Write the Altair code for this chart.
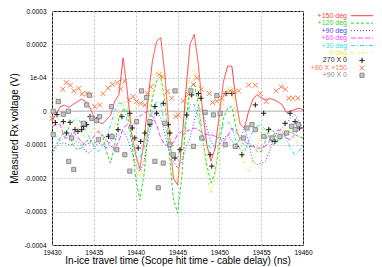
import altair as alt
import pandas as pd

FONT = "Liberation Sans"
T0, T1 = 19430, 19460
# waveform sampling used for the traces (0.5 ns steps)
time_grid = [T0 + 0.5 * i for i in range(61)]

series_names = ["+150 deg", "+120 deg", "+90 deg", "+60 deg", "+30 deg", "0 deg"]
series_colors = ["#ff3c3c", "#2ed82e", "#4646ff", "#ff46ff", "#2ee0e0", "#ecec30"]
series_dash = [[1, 0], [3, 2], [1, 2], [5, 2], [4, 2, 1, 2], [3, 2, 1, 2, 1, 2]]

# values in units of 1e-4 V
red = [-0.28, -0.08, 0.14, 0.18, 0.12, 0.20, 0.28, 0.36, 0.30, 0.12,
       -0.15, -0.30, -0.38, -0.25, -0.12, 0.30, 0.50, 1.60, 0.60, -0.60,
       -1.30, -1.72, -0.90, 0.40, 1.50, 2.10, 2.20, 1.10, -0.60, -2.00,
       -2.20, -1.00, 0.60, 2.00, 2.30, 1.40, 0.00, -1.00, -1.50, -1.10,
       -0.10, 0.90, 1.35, 1.35, 0.30, -0.40, -0.50, 0.00, 0.35, 0.50,
       0.40, 0.35, 0.38, 0.35, 0.28, 0.20, -0.03, 0.00, 0.05, 0.09,
       0.05]
green = [-1.25, -1.0, -0.8, -0.6, -0.7, -1.0, -1.15, -1.1, -0.9, -0.85,
         -0.95, -0.9, -0.7, -1.2, -1.55, -1.0, -0.2, 0.05, 0.0, -0.8,
         -2.0, -2.65, -1.9, -0.5, 0.4, 0.9, 1.05, 0.3, -1.2, -2.6,
         -3.05, -2.0, -0.3, 0.7, 0.85, 0.2, -0.8, -1.6, -2.15, -1.8,
         -1.0, -0.2, 0.1, 0.14, -0.5, -0.9, -1.0, -1.1, -1.0, -1.2,
         -1.2, -0.9, -0.5, -0.6, -0.9, -0.8, -0.7, -0.6, -0.7, -0.75,
         -0.8]
blue = [-1.25, -1.1, -0.95, -0.95, -1.0, -1.0, -0.9, -1.0, -1.2, -1.25,
        -1.1, -0.95, -1.0, -1.1, -0.9, -0.8, -0.7, -0.6, -0.8, -1.2,
        -1.6, -1.8, -1.5, -0.8, -0.3, 0.0, -0.2, -0.7, -1.2, -1.5,
        -1.7, -1.5, -1.1, -0.8, -0.3, 0.15, 0.0, -0.5, -0.9, -1.1,
        -1.0, -0.8, -0.7, -0.9, -1.0, -0.8, -0.5, -0.9, -1.5, -1.6,
        -1.55, -1.5, -1.2, -0.8, -0.6, -0.5, -0.4, -0.2, -0.1, -0.3,
        -0.5]
magenta = [-0.45, -0.4, -0.4, -0.8, -0.8, -0.6, -0.75, -0.9, -1.0, -0.95,
           -0.75, -0.6, -0.7, -0.85, -1.05, -1.1, -0.9, -0.5, -0.4, -0.45,
           -0.3, -0.15, -0.05, 0.0, -0.15, -0.4, -0.8, -1.0, -1.05, -0.95,
           -0.7, -0.6, -0.6, -0.55, -0.5, -0.55, -0.65, -0.7, -0.7, -0.75,
           -0.8, -0.9, -0.75, -0.5, -0.6, -0.8, -0.9, -1.0, -1.05, -1.1,
           -1.1, -1.05, -0.9, -0.7, -0.55, -0.6, -0.8, -0.85, -0.7, -0.55,
           -0.5]
cyan = [-0.6, -0.75, -0.9, -0.8, -0.5, -0.3, -0.2, -0.35, -0.55, -0.8,
        -1.05, -1.2, -1.1, -0.8, -0.4, 0.0, 0.25, 0.2, -0.3, -0.9,
        -1.3, -1.4, -1.1, -0.5, 0.0, 0.3, 0.2, -0.4, -1.0, -1.35,
        -1.4, -1.0, -0.3, 0.2, 0.2, -0.2, -0.7, -1.0, -1.1, -1.0,
        -0.7, -0.4, -0.3, -0.5, -0.9, -1.15, -1.2, -0.9, -0.6, -0.45,
        -0.4, -0.55, -0.8, -1.0, -0.9, -0.7, -0.8, -1.1, -1.3, -1.2,
        -1.0]
yellow = [-0.4, -0.5, -0.6, -0.5, -0.35, -0.3, -0.45, -0.6, -0.8, -0.7,
          -0.5, -0.55, -0.7, -0.9, -0.8, -0.4, 0.0, 0.3, 0.1, -0.6,
          -1.5, -2.0, -1.5, -0.3, 0.6, 1.2, 1.2, 0.3, -0.9, -1.9,
          -2.1, -1.3, 0.0, 1.1, 1.3, 0.5, -0.8, -1.9, -2.45, -2.0,
          -0.8, 0.3, 0.75, 0.7, -0.2, -1.1, -1.6, -1.8, -1.6, -1.1,
          -0.6, -0.5, -0.7, -0.9, -0.8, -0.6, -0.5, -0.6, -0.8, -1.0,
          -1.1]
series_values = [red, green, blue, magenta, cyan, yellow]

# scatter sets
black_t = [19430.4, 19430.6, 19431.35, 19431.75, 19432.15, 19432.75, 19433.1, 19433.55, 19433.75, 19434.15,
           19434.55, 19435.35, 19436.75, 19437.15, 19437.9, 19438.35, 19439.3, 19439.6, 19439.9, 19440.3,
           19440.6, 19441.1, 19441.7, 19442.3, 19442.5, 19443.3, 19443.9, 19444.1, 19444.7, 19445.3,
           19446.1, 19446.7, 19447.5, 19447.8, 19448.9, 19449.1, 19450.8, 19451.5, 19452.05, 19452.7,
           19454.3, 19455.3, 19455.9, 19456.3, 19456.65, 19457.85, 19458.45, 19459.05, 19459.6]
black_v = [-0.34, -0.1, -0.31, -0.65, -0.33, -0.55, -0.6, -0.55, -0.45, -0.4,
           -0.16, -0.25, -0.75, -0.75, -0.55, -0.16, -0.06, -0.5, -0.8, -1.1,
           -0.9, -0.65, -0.4, 0.14, -0.06, 0.24, -0.4, -0.65, -1.4, -1.15,
           -0.11, 0.49, 0.53, 0.39, -1.3, -1.64, 0.53, 0.53, -1.05, -1.3,
           0.19, -0.06, -0.55, -0.85, -0.9, -0.36, -0.06, -0.31, -0.5]
orange_t = [19430.0, 19430.75, 19431.3, 19431.7, 19432.2, 19432.6, 19433.2, 19433.6, 19434.2, 19434.6,
            19435.1, 19435.7, 19436.1, 19436.7, 19437.25, 19437.8, 19438.2, 19438.7, 19439.2, 19439.7,
            19440.1, 19440.6, 19441.1, 19441.4, 19441.8, 19442.8, 19443.2, 19443.8, 19444.3, 19444.8,
            19445.1, 19445.7, 19446.3, 19446.9, 19447.3, 19447.85, 19448.8, 19449.2, 19449.7, 19450.3,
            19450.7, 19451.3, 19451.8, 19452.3, 19453.5, 19454.3, 19454.9, 19455.6, 19456.8, 19457.4,
            19457.9, 19458.3, 19458.8, 19459.4]
orange_v = [-0.21, 0.31, 0.66, 0.86, 0.78, 0.61, 0.68, 0.52, 0.53, 0.49,
            0.14, 0.19, 0.53, 0.70, 0.80, 0.86, 0.66, 0.90, 0.34, 0.44,
            0.29, 0.24, 0.19, 0.53, 0.73, 1.10, 1.03, 0.59, 0.39, -0.16,
            -0.11, 0.31, 0.50, 0.80, 1.0, 0.66, 0.53, 0.26, 0.31, 0.39,
            0.53, 0.61, 0.58, 0.61, 0.78, 0.78, 0.53, 0.29, 0.61, 0.73,
            0.66, 0.39, 0.39, 0.39]
gray_t = [19430.15, 19430.15, 19430.75, 19431.35, 19431.95, 19432.0, 19432.35, 19432.6, 19433.75, 19434.15,
          19434.45, 19434.75, 19435.3, 19435.55, 19435.7, 19437.1, 19437.15, 19437.75, 19438.7, 19439.3,
          19440.1, 19440.7, 19441.3, 19441.7, 19442.3, 19442.7, 19443.3, 19443.5, 19444.1, 19444.5,
          19444.7, 19446.6, 19446.9, 19447.9, 19448.3, 19449.3, 19449.7, 19450.1, 19450.7, 19451.9,
          19452.9, 19453.3, 19453.9, 19454.3, 19455.3, 19456.3, 19457.25, 19458.05, 19458.65, 19459.05,
          19459.45]
gray_v = [0.0, -0.7, 0.29, -0.09, 0.0, -1.5, -0.8, -1.74, -0.36, 0.19,
          0.48, -0.21, -0.28, -0.85, -0.16, 0.14, -0.75, -1.15, -1.3, -1.79,
          -0.31, 0.61, 0.41, -0.31, -1.5, -2.29, -1.55, -0.36, -1.0, -1.3,
          0.61, 0.61, -1.05, -0.8, -0.03, -0.11, 0.47, -0.06, -1.0, -1.05,
          -0.8, -0.5, -0.4, -0.55, -0.75, -0.8, -0.75, -0.65, -0.45, -0.55,
          -0.4]

point_names = ["270 X 0", "+60 X +150", "+90 X 0"]
point_colors = ["#1a1a1a", "#ff7a45", "#8c8c8c"]
point_sets = [(black_t, black_v), (orange_t, orange_v), (gray_t, gray_v)]


def point_mark(j):
    if j == 0:
        return dict(shape="M-1,0H1M0,-1V1", filled=False, size=28, strokeWidth=1,
                    color=point_colors[0], opacity=1)
    if j == 1:
        return dict(shape="M-1,-1L1,1M-1,1L1,-1", filled=False, size=24, strokeWidth=1,
                    color=point_colors[1], opacity=1)
    return dict(shape="square", filled=True, size=18, fill="#c4c4c4", stroke="#7c7c7c",
                strokeWidth=0.8, opacity=1, fillOpacity=1)


x_ticks = [19430, 19435, 19440, 19445, 19450, 19455, 19460]
y_ticks = [-0.0004, -0.0003, -0.0002, -0.0001, 0, 0.0001, 0.0002, 0.0003]

x_scale = alt.Scale(domain=[T0, T1], nice=False, zero=False)
y_scale = alt.Scale(domain=[-0.0004, 0.0003], nice=False, zero=False)

PLOT_H = 234

x_axis = alt.Axis(values=x_ticks, format="d", title="In-ice travel time (Scope hit time - cable delay) (ns)",
                  titleFont=FONT, titleFontSize=10, titleFontWeight="normal", titleColor="black",
                  titleY=10.5, titleBaseline="top",
                  labelFont=FONT, labelFontSize=6.5, labelColor="black", labelPadding=4,
                  labelFlush=False, labelOverlap=False, tickSize=0, domain=False,
                  grid=True, gridColor="#b0b0b0", gridDash=[2, 2], gridWidth=0.8)
y_axis = alt.Axis(values=y_ticks,
                  labelExpr="datum.value == 0 ? '0' : (abs(datum.value - 0.0001) < 1e-9 ? '1e-04' : (datum.value < 0 ? '-' : '') + format(abs(datum.value), '.4f'))",
                  title="Measured Rx voltage (V)", titleFont=FONT, titleFontSize=10,
                  titleFontWeight="normal", titleColor="black", titleX=-33, titleY=PLOT_H / 2,
                  labelFont=FONT, labelFontSize=6.5, labelColor="black", labelPadding=6,
                  labelFlush=False, labelOverlap=False, tickSize=0, domain=False,
                  grid=True, gridColor="#b0b0b0", gridDash=[2, 2], gridWidth=0.8)

layers = []
zero = pd.DataFrame({"v": [0.0]})
layers.append(alt.Chart(zero).mark_rule(color="#c8c8c8", strokeWidth=1.5).encode(
    y=alt.Y("v:Q", scale=y_scale, axis=y_axis)))

for name, color, dash, vals in zip(series_names, series_colors, series_dash, series_values):
    df = pd.DataFrame({"t": time_grid, "v": [v * 1e-4 for v in vals]})
    layers.append(alt.Chart(df).mark_line(color=color, strokeDash=dash, strokeWidth=1).encode(
        x=alt.X("t:Q", scale=x_scale, axis=x_axis),
        y=alt.Y("v:Q", scale=y_scale, axis=y_axis)))

for j, (ts, vs) in enumerate(point_sets):
    df = pd.DataFrame({"t": ts, "v": [v * 1e-4 for v in vs]})
    layers.append(alt.Chart(df).mark_point(**point_mark(j)).encode(
        x=alt.X("t:Q", scale=x_scale, axis=x_axis),
        y=alt.Y("v:Q", scale=y_scale, axis=y_axis)))

# legend (gnuplot style: coloured right-aligned text, sample to the right)
one = pd.DataFrame({"k": [0]})
legend_labels = series_names + point_names
legend_colors = series_colors + point_colors
for i, (lab, col) in enumerate(zip(legend_labels, legend_colors)):
    yy = 4.7 + 7.45 * i
    layers.append(alt.Chart(one).mark_text(text=lab, align="right", baseline="middle", font=FONT,
                                           fontSize=7, color=col).encode(
        x=alt.value(295), y=alt.value(yy)))
    if i < len(series_names):
        layers.append(alt.Chart(one).mark_rule(color=col, strokeDash=series_dash[i], strokeWidth=1).encode(
            x=alt.value(299), x2=alt.value(321), y=alt.value(yy)))
    else:
        j = i - len(series_names)
        layers.append(alt.Chart(one).mark_point(**point_mark(j)).encode(
            x=alt.value(310), y=alt.value(yy)))

chart = alt.layer(*layers).properties(
    width=251, height=PLOT_H,
    autosize=alt.AutoSizeParams(type="none"),
    padding={"left": 44, "top": 3, "right": 71, "bottom": 22},
    background="white",
).configure_view(stroke="black", strokeWidth=1)

chart.save("out.html", embed_options={"renderer": "svg", "actions": False})
